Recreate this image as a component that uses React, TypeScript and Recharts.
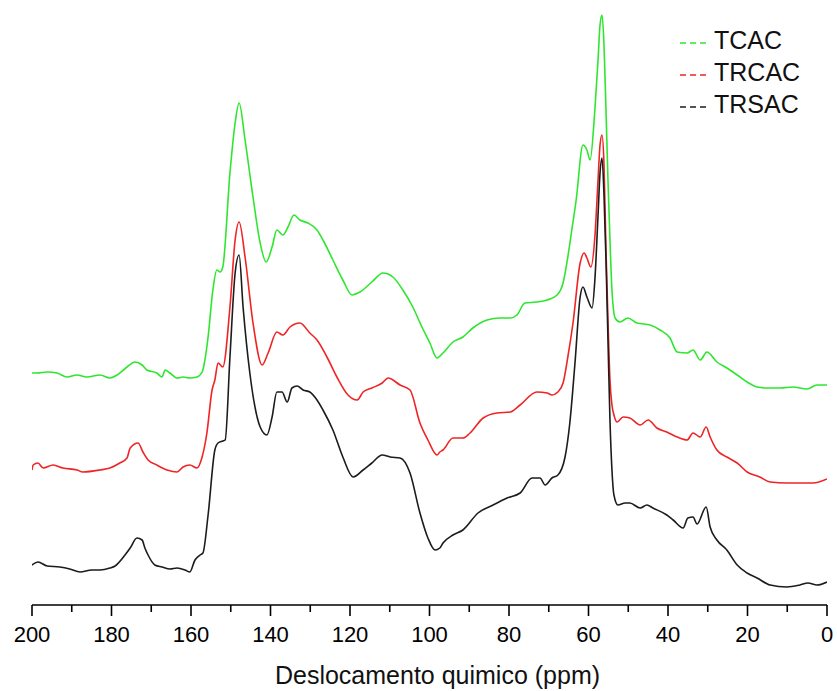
import React from 'react';
import { LineChart, Line, XAxis, YAxis, Legend } from 'recharts';

// x: chemical shift (ppm), y: intensity (arbitrary units, stacked offset as in the figure)
const TCAC: [number, number][] = [
  [200, 232], [198.7, 232], [196.2, 233], [193.7, 232], [191.2, 228], [188.7, 230], [186.2, 228],
  [182.9, 230], [180.4, 227], [178.6, 230], [176.1, 238], [174.1, 243], [172.3, 240], [171.1, 235],
  [168.6, 232], [167.3, 228], [166.5, 235], [165.3, 232], [163.5, 227], [162.0, 228], [160.3, 227],
  [158.5, 228], [157.2, 233], [156.5, 245], [155.7, 268], [154.5, 315], [153.5, 335], [152.7, 333],
  [152.0, 338], [150.2, 432], [148.9, 482], [147.9, 502], [146.4, 465], [144.4, 408], [142.6, 362],
  [141.1, 343], [139.6, 358], [138.4, 375], [136.9, 370], [135.6, 378], [134.1, 390], [132.6, 385],
  [130.6, 382], [128.3, 375], [126.8, 365], [124.3, 345], [121.8, 325], [119.5, 310], [117.5, 313],
  [114.5, 323], [111.7, 332], [109.2, 328], [106.7, 315], [104.2, 298], [101.9, 278], [99.9, 262],
  [98.1, 247], [96.6, 252], [94.1, 263], [91.6, 268], [89.1, 277], [85.5, 285], [82.3, 287],
  [79.7, 287], [78.0, 290], [76.0, 302], [73.0, 303], [70.4, 305], [67.9, 310], [66.4, 322],
  [65.2, 348], [64.2, 375], [63.1, 405], [61.4, 460], [60.4, 455], [59.6, 445], [58.4, 495],
  [57.6, 545], [57.1, 580], [56.6, 590], [56.1, 560], [55.6, 495], [55.1, 425], [54.6, 365],
  [54.1, 315], [53.3, 287], [52.1, 283], [50.1, 287], [47.8, 282], [44.5, 280], [42.0, 275],
  [39.5, 267], [37.7, 253], [35.2, 252], [33.7, 255], [31.9, 245], [30.2, 253], [27.7, 243],
  [25.2, 237], [22.6, 230], [20.1, 223], [17.6, 218], [15.1, 217], [11.8, 217], [8.6, 218],
  [5.0, 216], [2.5, 220], [0, 220],
];

const TRCAC: [number, number][] = [
  [200, 135], [199.7, 140], [198.5, 142], [197.2, 137], [194.7, 140], [192.2, 137], [188.7, 135],
  [187.2, 133], [182.9, 135], [180.4, 137], [177.9, 142], [176.1, 147], [175.3, 157], [173.3, 162],
  [172.1, 153], [170.8, 145], [168.6, 140], [166.0, 135], [163.5, 133], [162.0, 138], [160.3, 140],
  [158.5, 137], [157.2, 148], [156.0, 172], [154.7, 215], [154.0, 225], [153.2, 242], [152.0, 238],
  [150.2, 298], [148.9, 365], [147.9, 383], [146.4, 348], [144.4, 282], [142.1, 240], [140.6, 252],
  [138.4, 273], [136.9, 270], [135.1, 278], [132.6, 282], [130.1, 272], [128.3, 265], [125.8, 248],
  [123.3, 228], [120.5, 210], [118.2, 205], [116.7, 213], [114.5, 217], [111.9, 222], [110.4, 227],
  [107.4, 220], [104.9, 215], [102.4, 182], [100.4, 165], [98.1, 150], [97.4, 153], [96.6, 155],
  [94.1, 167], [91.6, 167], [89.8, 172], [86.5, 187], [83.0, 192], [79.7, 193], [77.2, 200],
  [73.0, 213], [70.4, 212], [69.2, 210], [67.7, 213], [66.4, 222], [65.2, 248], [63.9, 282],
  [62.1, 342], [61.1, 352], [60.4, 347], [59.4, 338], [58.4, 368], [57.6, 425], [57.1, 460],
  [56.6, 470], [56.1, 440], [55.6, 355], [55.1, 285], [54.6, 225], [54.1, 200], [53.6, 190],
  [52.8, 183], [51.3, 188], [49.6, 187], [47.0, 180], [45.0, 185], [42.8, 177], [40.3, 173],
  [37.7, 168], [35.2, 165], [33.7, 172], [31.9, 168], [30.4, 178], [29.4, 168], [27.7, 155],
  [25.2, 148], [22.6, 142], [20.1, 133], [16.9, 128], [14.3, 123], [10.1, 122], [6.8, 122],
  [3.5, 122], [0, 126],
];

const TRSAC: [number, number][] = [
  [200, 40], [198.5, 43], [196.2, 39], [193.0, 38], [190.5, 36], [187.9, 33], [185.0, 35],
  [182.9, 35], [180.4, 37], [179.1, 39], [176.6, 50], [175.3, 57], [173.6, 67], [172.3, 65],
  [171.6, 57], [170.8, 50], [169.1, 40], [167.3, 38], [165.3, 36], [163.5, 37], [161.5, 35],
  [160.3, 33], [159.0, 45], [157.7, 50], [157.0, 52], [155.7, 90], [154.0, 155], [153.2, 162],
  [152.0, 164], [151.4, 165], [150.2, 248], [148.9, 332], [147.9, 350], [146.9, 298], [145.2, 232],
  [142.6, 178], [140.9, 170], [139.6, 188], [138.4, 213], [137.1, 213], [135.8, 203], [134.6, 217],
  [133.3, 219], [131.8, 215], [130.1, 213], [128.3, 205], [126.8, 195], [124.3, 175], [121.8, 148],
  [119.2, 128], [116.7, 135], [114.5, 142], [111.9, 150], [109.9, 148], [107.4, 147], [104.9, 132],
  [102.4, 92], [100.4, 67], [98.6, 55], [97.4, 57], [96.6, 62], [94.1, 70], [91.6, 75],
  [87.8, 92], [84.0, 100], [80.5, 107], [77.2, 112], [74.2, 127], [72.2, 127], [70.9, 120],
  [69.2, 127], [67.7, 130], [65.9, 148], [64.7, 182], [63.4, 242], [62.1, 308], [61.4, 318],
  [60.4, 308], [59.1, 297], [58.4, 325], [57.6, 390], [57.1, 432], [56.6, 447], [56.1, 410],
  [55.6, 345], [55.1, 265], [54.6, 185], [54.1, 135], [53.6, 110], [52.6, 100], [50.8, 102],
  [49.6, 102], [47.0, 97], [45.3, 100], [43.8, 97], [40.3, 90], [38.7, 85], [36.2, 77],
  [35.0, 87], [33.7, 88], [32.7, 81], [30.4, 98], [29.4, 78], [27.7, 65], [25.2, 55],
  [22.6, 40], [20.1, 32], [17.6, 27], [14.3, 20], [10.1, 18], [6.8, 20], [4.8, 22],
  [2.5, 20], [0, 23],
];

const X_TICKS = [0, 10, 20, 30, 40, 50, 60, 70, 80, 90, 100, 110, 120, 130, 140, 150, 160, 170, 180, 190, 200];

const SERIES = [
  { name: 'TCAC', color: '#2fe62f', points: TCAC },
  { name: 'TRCAC', color: '#f02424', points: TRCAC },
  { name: 'TRSAC', color: '#1c1c1c', points: TRSAC },
];

const FONT = '"Liberation Sans", Arial, Helvetica, sans-serif';

const toRows = (pts: [number, number][]) => pts.map(([ppm, v]) => ({ ppm, v }));

function AxisTick(props: any) {
  const { x, y, payload } = props;
  const major = payload.value % 20 === 0;
  return (
    <g>
      <line x1={x} x2={x} y1={y} y2={y + (major ? 11 : 7)} stroke="#000" strokeWidth={1.6} />
      {major && (
        <text x={x} y={y + 37} textAnchor="middle" fontSize={22} fill="#000" fontFamily={FONT}>
          {payload.value}
        </text>
      )}
    </g>
  );
}

function AxisTitle(props: any) {
  const vb = props.viewBox || { x: 32, y: 605, width: 795 };
  return (
    <text x={vb.x + vb.width / 2 + 8} y={vb.y + 79} textAnchor="middle" fontSize={25} fill="#111" fontFamily={FONT}>
      Deslocamento quimico (ppm)
    </text>
  );
}

function LegendBox() {
  return (
    <div style={{ fontFamily: FONT }}>
      {SERIES.map((s) => (
        <div key={s.name} style={{ display: 'flex', alignItems: 'center', height: 32 }}>
          <svg width={36} height={32} style={{ display: 'block' }}>
            <line x1={2} x2={29} y1={19} y2={19} stroke={s.color} strokeWidth={1.6} strokeDasharray="6 4" />
          </svg>
          <span style={{ fontSize: 25, lineHeight: '32px', color: '#111' }}>{s.name}</span>
        </div>
      ))}
    </div>
  );
}

export default function App() {
  return (
    <div style={{ position: 'absolute', left: 0, top: 0, background: '#fff' }}>
      <LineChart width={837} height={691} margin={{ top: 5, right: 10, left: 32, bottom: 10 }}>
        <XAxis
          type="number"
          dataKey="ppm"
          domain={[0, 200]}
          reversed
          ticks={X_TICKS}
          interval={0}
          height={76}
          tickSize={0}
          tickMargin={0}
          tickLine={false}
          tick={<AxisTick />}
          axisLine={{ stroke: '#000', strokeWidth: 1.6 }}
          allowDataOverflow
          label={<AxisTitle />}
        />
        <YAxis type="number" domain={[0, 600]} hide allowDataOverflow />
        <Legend
          layout="vertical"
          align="center"
          verticalAlign="middle"
          wrapperStyle={{ top: 24, left: 678, width: 159 }}
          content={() => <LegendBox />}
        />
        {SERIES.map((s) => (
          <Line
            key={s.name}
            name={s.name}
            data={toRows(s.points)}
            dataKey="v"
            type="monotone"
            stroke={s.color}
            strokeWidth={1.6}
            dot={false}
            activeDot={false}
            isAnimationActive={false}
          />
        ))}
      </LineChart>
    </div>
  );
}
